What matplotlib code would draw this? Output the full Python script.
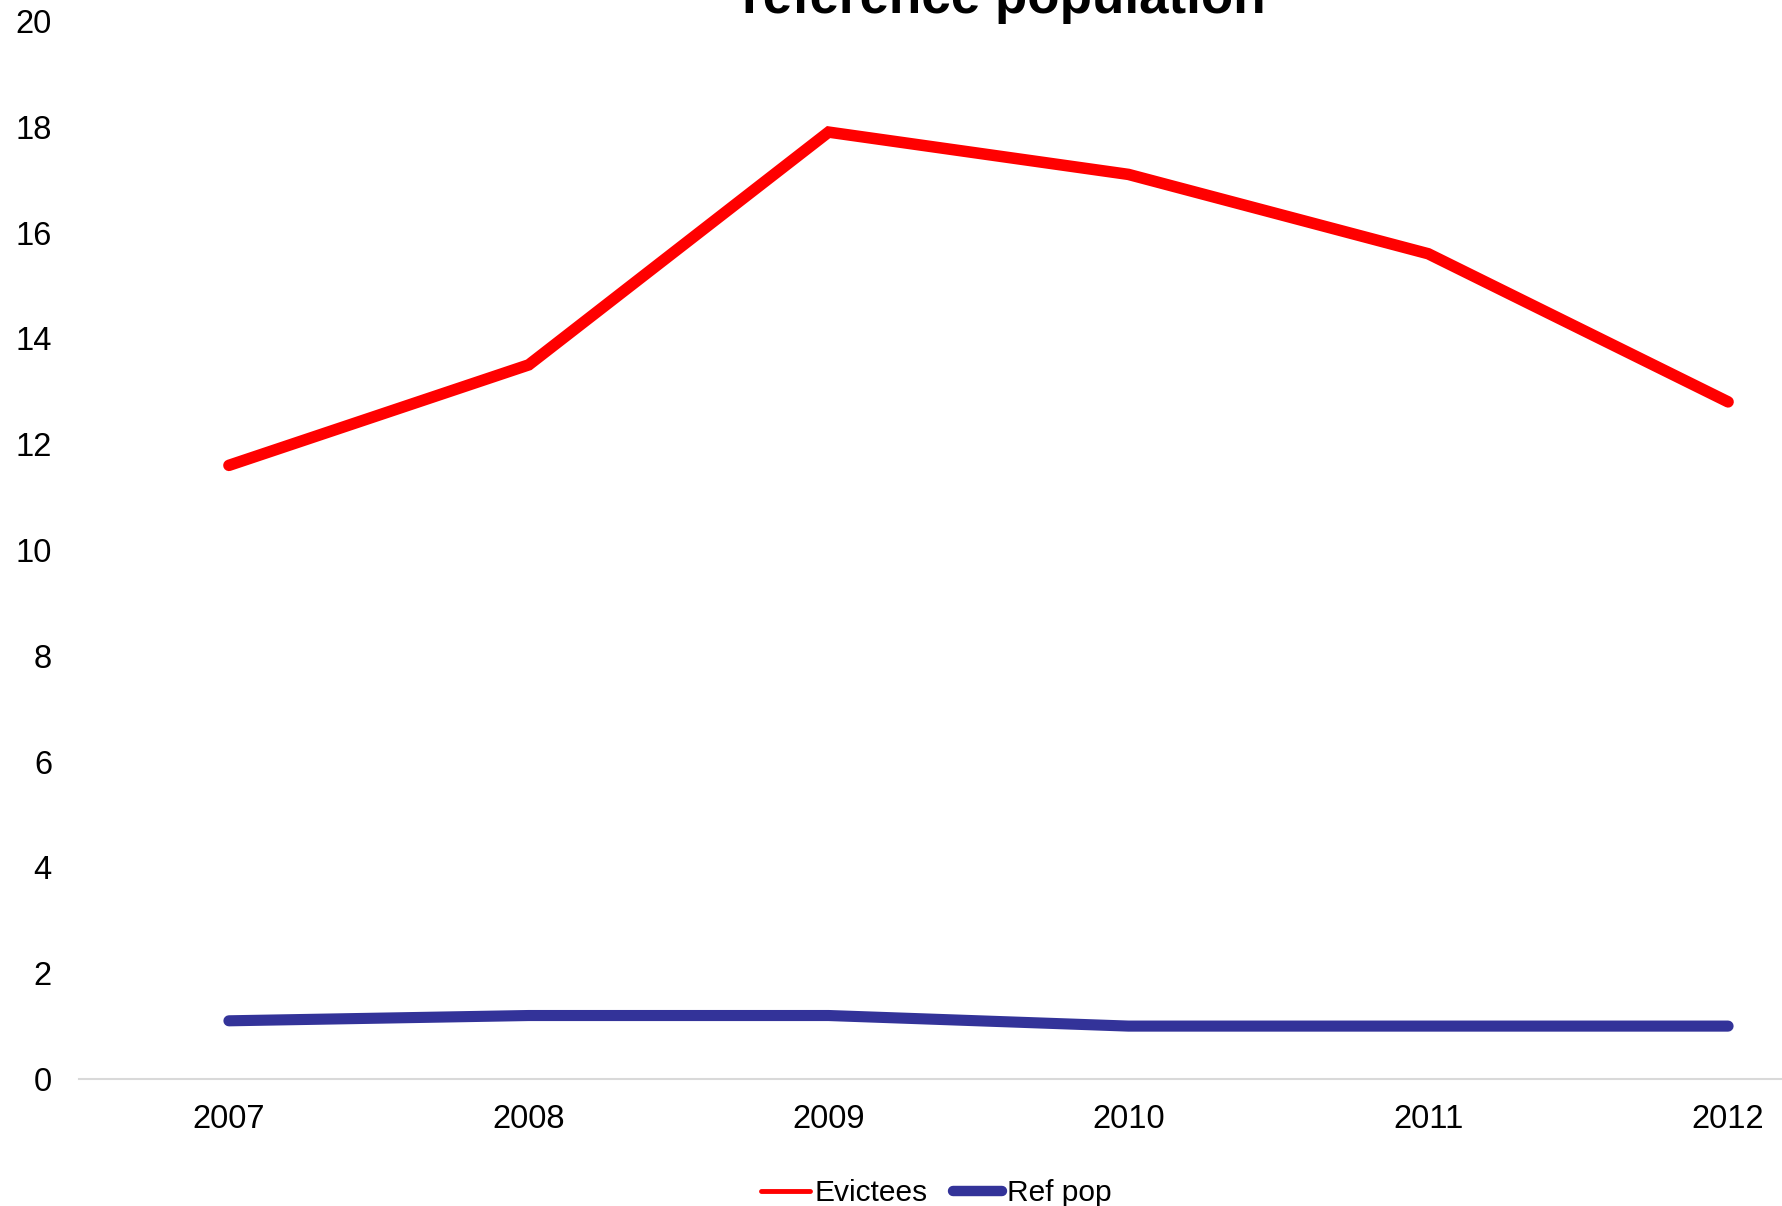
import matplotlib
matplotlib.use("Agg")
import matplotlib.pyplot as plt
from matplotlib.lines import Line2D

plt.rcParams['font.family'] = ['Liberation Sans', 'DejaVu Sans']

years = ["2007", "2008", "2009", "2010", "2011", "2012"]
evictees = [11.6, 13.5, 17.9, 17.1, 15.6, 12.8]
ref_pop = [1.1, 1.2, 1.2, 1.0, 1.0, 1.0]
title_visible = "reference population"
yticks = [0, 2, 4, 6, 8, 10, 12, 14, 16, 18, 20]

W, H, DPI = 1783, 1206, 100
fig = plt.figure(figsize=(W / DPI, H / DPI), dpi=DPI)
left = 79 / W
right = 1878 / W
bottom = (H - 1079) / H
top = 1 - 21 / H
ax = fig.add_axes([left, bottom, right - left, top - bottom])

x = list(range(len(years)))
red = "#FF0000"
blue = "#333399"
ax.plot(x, evictees, color=red, lw=8.3, solid_capstyle='round', solid_joinstyle='miter', zorder=3)
ax.plot(x, ref_pop, color=blue, lw=8.0, solid_capstyle='round', solid_joinstyle='miter', zorder=3)

ax.set_xlim(-0.5, len(years) - 0.5)
ax.set_ylim(0, 20)
ax.set_xticks(x)
ax.set_xticklabels(years)
ax.set_yticks(yticks)
ax.set_yticklabels([str(v) for v in yticks])
ax.tick_params(axis='both', length=0, labelsize=23.5, colors='black')
ax.tick_params(axis='y', pad=19.5)
ax.tick_params(axis='x', pad=18)
for s in ['top', 'right', 'left']:
    ax.spines[s].set_visible(False)
ax.spines['bottom'].set_color('#D9D9D9')
ax.spines['bottom'].set_linewidth(1.5)

fig.text(1004 / W, 1 - 13 / H, title_visible, ha='center', va='baseline',
         fontsize=38.1, fontweight='bold')

handles = [Line2D([], [], color=red, lw=3.5, solid_capstyle='round'),
           Line2D([], [], color=blue, lw=7.5, solid_capstyle='round')]
fig.legend(handles, ["Evictees", "Ref pop"], loc='center', ncol=2,
           bbox_to_anchor=(936 / W, (H - 1193) / H), frameon=False,
           fontsize=21.5, handlelength=1.65, handletextpad=0.15, columnspacing=0.85,
           borderpad=0, borderaxespad=0)

fig.savefig("out.png", dpi=DPI)
